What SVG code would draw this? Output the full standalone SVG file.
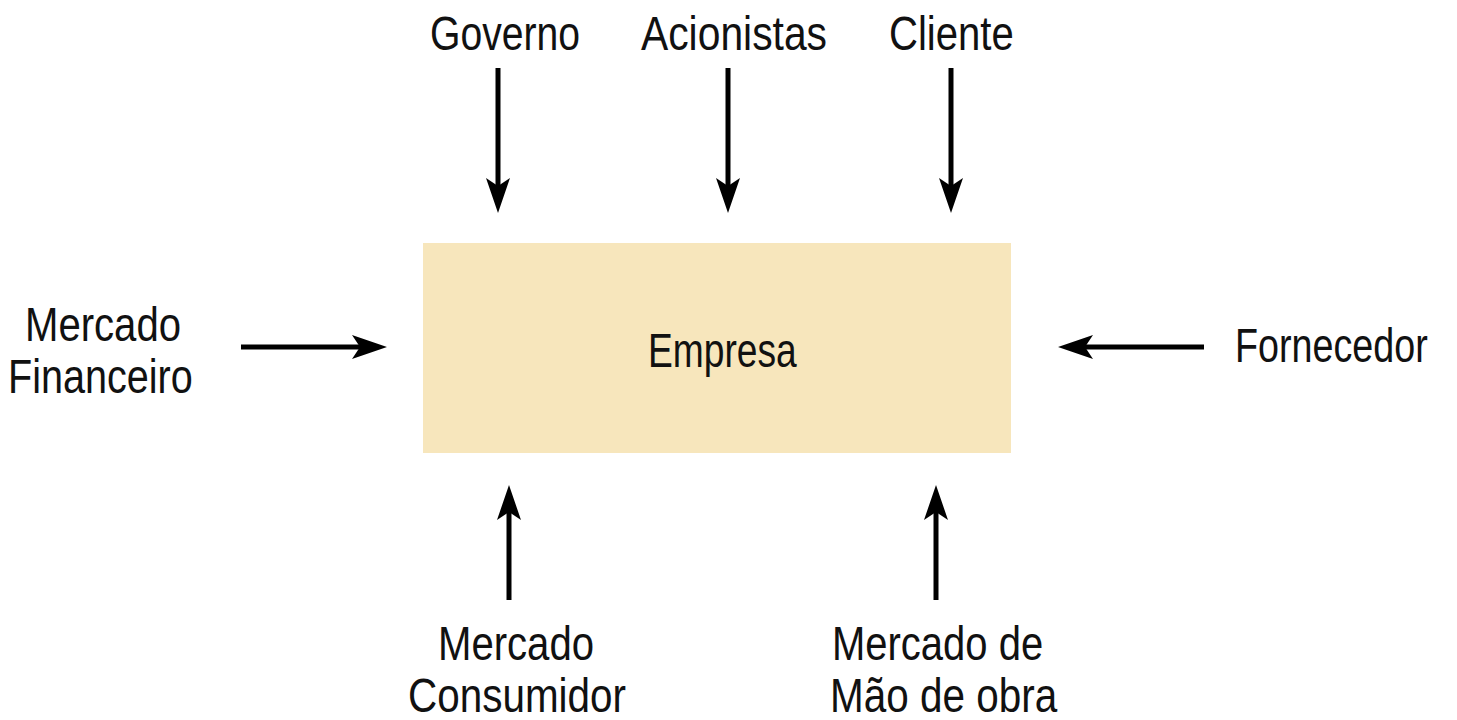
<svg xmlns="http://www.w3.org/2000/svg" width="1457" height="720" viewBox="0 0 1457 720">
<style>
text{font-family:"Liberation Sans",Arial,sans-serif;font-size:49px;fill:#111}
.ln{stroke:#000;stroke-width:5;fill:none}
.hd{fill:#000}
</style>
<rect width="1457" height="720" fill="#fff"/>
<g id="connectors">
<line class="ln" x1="498" y1="68" x2="498" y2="190"/>
<path class="hd" d="M498 213 L486 178 L498 186 L510 178 Z"/>
<line class="ln" x1="728" y1="68" x2="728" y2="190"/>
<path class="hd" d="M728 213 L716 178 L728 186 L740 178 Z"/>
<line class="ln" x1="951" y1="68" x2="951" y2="190"/>
<path class="hd" d="M951 213 L939 178 L951 186 L963 178 Z"/>
<line class="ln" x1="241" y1="347" x2="365" y2="347"/>
<path class="hd" d="M387 347 L352 335 L360 347 L352 359 Z"/>
<line class="ln" x1="1204" y1="347" x2="1080" y2="347"/>
<path class="hd" d="M1058 347 L1093 335 L1085 347 L1093 359 Z"/>
<line class="ln" x1="509" y1="600" x2="509" y2="508"/>
<path class="hd" d="M509 485 L497 520 L509 512 L521 520 Z"/>
<line class="ln" x1="936" y1="600" x2="936" y2="508"/>
<path class="hd" d="M936 485 L924 520 L936 512 L948 520 Z"/>
</g>
<g id="empresa">
<rect x="423" y="243" width="588" height="210" fill="#F7E6BC"/>
<text transform="translate(648,367) scale(0.8,1)" textLength="186" lengthAdjust="spacingAndGlyphs">Empresa</text>
</g>
<g id="governo"><text transform="translate(430,50) scale(0.8,1)" textLength="187.5" lengthAdjust="spacingAndGlyphs">Governo</text></g>
<g id="acionistas"><text transform="translate(641,50) scale(0.8,1)" textLength="232.5" lengthAdjust="spacingAndGlyphs">Acionistas</text></g>
<g id="cliente"><text transform="translate(889,50) scale(0.8,1)" textLength="156" lengthAdjust="spacingAndGlyphs">Cliente</text></g>
<g id="mercado-financeiro">
<text transform="translate(25,341) scale(0.8,1)" textLength="195" lengthAdjust="spacingAndGlyphs">Mercado</text>
<text transform="translate(8,393) scale(0.8,1)" textLength="231" lengthAdjust="spacingAndGlyphs">Financeiro</text>
</g>
<g id="fornecedor"><text transform="translate(1235,362) scale(0.8,1)" textLength="241" lengthAdjust="spacingAndGlyphs">Fornecedor</text></g>
<g id="mercado-consumidor">
<text transform="translate(438,660) scale(0.8,1)" textLength="195" lengthAdjust="spacingAndGlyphs">Mercado</text>
<text transform="translate(408,712) scale(0.8,1)" textLength="272.5" lengthAdjust="spacingAndGlyphs">Consumidor</text>
</g>
<g id="mercado-mao-de-obra">
<text transform="translate(832,660) scale(0.8,1)" textLength="264" lengthAdjust="spacingAndGlyphs">Mercado de</text>
<text transform="translate(830,712) scale(0.8,1)" textLength="284" lengthAdjust="spacingAndGlyphs">Mão de obra</text>
</g>
</svg>
